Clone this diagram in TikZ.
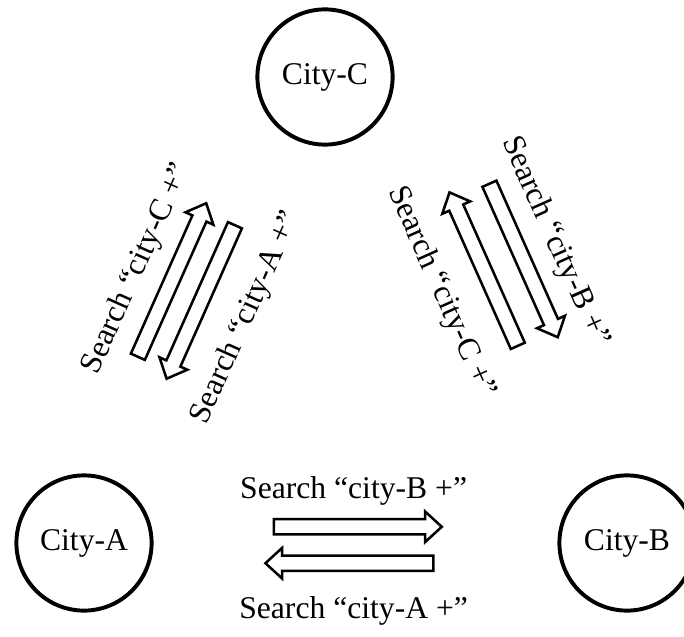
\documentclass[tikz,border=0pt]{standalone}
\usepackage{fontspec}
\setmainfont{Liberation Serif}
\usetikzlibrary{shapes.arrows}
\tikzset{
  city/.style={circle, draw=black, line width=2.8pt, minimum size=3.38cm, inner sep=0pt, font=\fontsize{22.5}{27}\selectfont},
  blockarrow/.style={single arrow, draw=black, line width=1.8pt, inner sep=0.16cm, single arrow head extend=0.19cm, single arrow tip angle=85, minimum height=4.2cm},
  lab/.style={font=\fontsize{22.5}{27}\selectfont, anchor=base, inner sep=0pt}
}

\begin{document}
\begin{tikzpicture}
  \useasboundingbox (0,0) rectangle (17.1,15.9);
  \node[city] (cityC) at (8.125,13.975) {City-C};
  \node[city] (cityA) at (2.1,2.325) {City-A};
  \node[city] (cityB) at (15.675,2.325) {City-B};
  % one pair of arrows per side: centre x / centre y / angle / half gap / forward city / backward city / name
  \foreach \cx/\cy/\ang/\gap/\fwd/\bwd/\nm in {8.84/2.275/0/0.455/B/A/AB, 4.66/8.625/66/0.44/C/A/AC, 12.59/9.28/-66/0.5/B/C/CB}{
    \begin{scope}[shift={(\cx,\cy)}, rotate=\ang, transform shape]
      \node[blockarrow] (go\nm) at (0,\gap) {};
      \node[blockarrow, rotate=180] (back\nm) at (0,-\gap) {};
      \node[lab] (golab\nm) at (0,\gap+0.72) {Search “city-\fwd\ +”};
      \node[lab] (backlab\nm) at (0,-\gap-1.39) {Search “city-\bwd\ +”};
    \end{scope}
  }
\end{tikzpicture}
\end{document}
